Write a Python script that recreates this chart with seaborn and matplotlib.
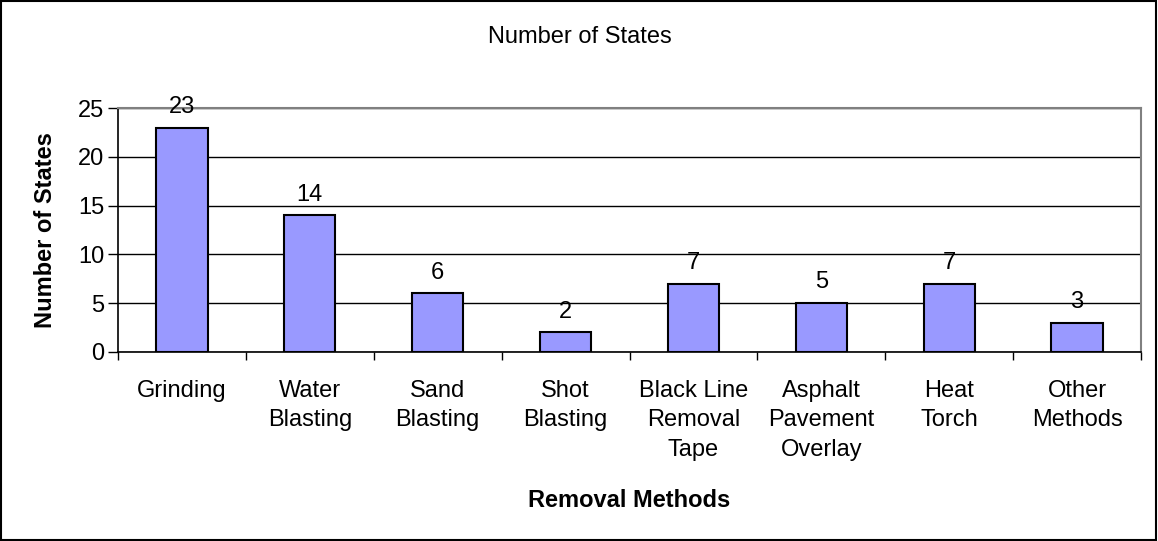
import matplotlib
matplotlib.use("Agg")
import matplotlib.pyplot as plt
import seaborn as sns
import pandas as pd
from matplotlib.patches import Rectangle

methods = ["Grinding", "Water\nBlasting", "Sand\nBlasting", "Shot\nBlasting",
           "Black Line\nRemoval\nTape", "Asphalt\nPavement\nOverlay", "Heat\nTorch",
           "Other\nMethods"]
states = [23, 14, 6, 2, 7, 5, 7, 3]
yticks = [0, 5, 10, 15, 20, 25]

sns.set_theme(style="white")
plt.rcParams['font.family'] = ['Liberation Sans', 'DejaVu Sans']
plt.rcParams['text.color'] = 'black'
plt.rcParams['axes.labelcolor'] = 'black'
plt.rcParams['xtick.color'] = 'black'
plt.rcParams['ytick.color'] = 'black'

FS = 17

df = pd.DataFrame({"method": methods, "states": states})

fig = plt.figure(figsize=(11.58, 5.41), dpi=100)
ax = fig.add_axes([118/1158, 1-352/541, (1141-118)/1158, (352-108)/541])

sns.barplot(data=df, x="method", y="states", color="#9999FF", saturation=1,
            edgecolor="black", linewidth=1.5, width=0.4, ax=ax, zorder=3)

ax.set_ylim(0, 25)
ax.set_xlim(-0.5, len(methods) - 0.5)
ax.set_yticks(yticks)
ax.set_yticklabels([str(v) for v in yticks], fontsize=FS)
ax.yaxis.grid(True, color="black", linewidth=1.0, zorder=0)
ax.set_axisbelow(True)
ax.tick_params(axis="y", which="major", direction="out", length=7, width=1,
               color="black", left=True, pad=3)
ax.set_xticks(range(len(methods)))
ax.set_xticklabels(methods, fontsize=FS, linespacing=1.45)
ax.tick_params(axis="x", which="major", length=0, pad=20)
ax.set_xticks([i - 0.5 for i in range(len(methods) + 1)], minor=True)
ax.tick_params(axis="x", which="minor", direction="out", length=6, width=1,
               color="black", bottom=True)

for side in ["left", "bottom"]:
    ax.spines[side].set_color("black")
    ax.spines[side].set_linewidth(1.2)
for side in ["top", "right"]:
    ax.spines[side].set_color("#808080")
    ax.spines[side].set_linewidth(1.5)

for i, v in enumerate(states):
    ax.annotate(str(v), (i, v), xytext=(0, 7), textcoords="offset points",
                ha="center", va="bottom", fontsize=FS)

ax.set_xlabel("Removal Methods", fontsize=FS, fontweight="bold", labelpad=20)
ax.set_ylabel("Number of States", fontsize=FS, fontweight="bold", labelpad=15)
fig.text(580/1158, 1-37/541, "Number of States", ha="center", va="center", fontsize=FS)

fig.patches.append(Rectangle((0.001, 0.002), 0.997, 0.996, transform=fig.transFigure,
                             fill=False, edgecolor="black", linewidth=1.5))

fig.savefig("out.png", dpi=100, facecolor="white")
